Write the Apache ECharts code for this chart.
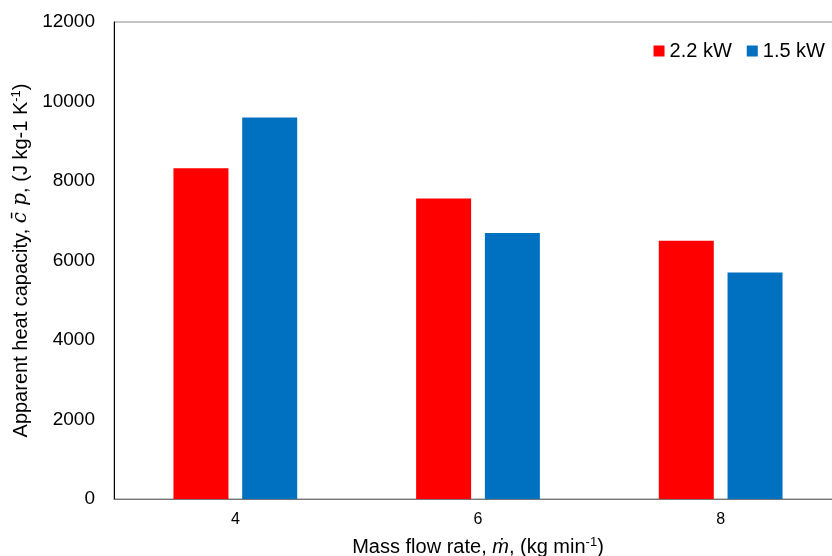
<!doctype html>
<html>
<head>
<meta charset="UTF-8">
<title>Apparent heat capacity</title>
<script src="https://cdn.jsdelivr.net/npm/echarts@6/dist/echarts.min.js"></script>
<style>
  html, body { margin: 0; padding: 0; background: #fff; }
  #main { width: 832px; height: 556px; }
</style>
</head>
<body>
<div id="main"></div>
<script>
// data
var categories = ['4', '6', '8'];
var power22 = [8320, 7560, 6500];
var power15 = [9600, 6690, 5700];
var seriesNames = ['2.2 kW', '1.5 kW'];

var font = 'Liberation Sans, Arial, sans-serif';
var myChart = echarts.init(document.getElementById('main'));

var option = {
    animation: false,
    textStyle: { fontFamily: font },
    legend: {
        data: seriesNames,
        right: 2,
        top: 36,
        itemWidth: 11,
        itemHeight: 11,
        itemGap: 15,
        icon: 'rect',
        textStyle: { fontSize: 20, color: '#000', fontFamily: font }
    },
    grid: {
        left: 114,
        right: -10,
        top: 22,
        bottom: 57,
        outerBoundsMode: 'none',
        containLabel: false,
        show: true,
        borderColor: '#888',
        borderWidth: 1
    },
    xAxis: {
        type: 'category',
        data: categories,
        axisTick: { show: false },
        axisLine: { lineStyle: { color: '#777', width: 1 } },
        axisLabel: { fontSize: 16, color: '#000', margin: 13 },
        name: '{n|Mass flow rate, }{i|ṁ}{n|, (kg min}{s|-1}{n|)}',
        nameLocation: 'middle',
        nameGap: 37,
        nameTextStyle: {
            rich: {
                n: { fontSize: 20, color: '#000', fontFamily: font },
                i: { fontSize: 20, color: '#000', fontFamily: font, fontStyle: 'italic' },
                s: { fontSize: 13, color: '#000', fontFamily: font, padding: [0, 0, 9, 0] }
            }
        }
    },
    yAxis: {
        type: 'value',
        min: 0,
        max: 12000,
        interval: 2000,
        splitLine: { show: false },
        axisTick: { show: false },
        axisLine: { show: true, lineStyle: { color: '#000', width: 1 } },
        axisLabel: {
            fontSize: 19,
            color: '#000',
            margin: 19,
            formatter: function (v) { return String(v); }
        },
        name: '{n|Apparent heat capacity, }{i|c̄ p}{n|, (J kg-1 K}{s|-1}{n|)}',
        nameLocation: 'middle',
        nameGap: 80,
        nameTextStyle: {
            rich: {
                n: { fontSize: 20, color: '#000', fontFamily: font },
                i: { fontSize: 20, color: '#000', fontFamily: 'DejaVu Serif, serif', fontStyle: 'italic' },
                s: { fontSize: 13, color: '#000', fontFamily: font, padding: [0, 0, 9, 0] }
            }
        }
    },
    series: [
        {
            name: seriesNames[0],
            type: 'bar',
            data: power22,
            barWidth: 55,
            barGap: '25%',
            itemStyle: { color: '#ff0000' }
        },
        {
            name: seriesNames[1],
            type: 'bar',
            data: power15,
            barWidth: 55,
            barGap: '25%',
            itemStyle: { color: '#0070c0' }
        }
    ]
};
myChart.setOption(option);
</script>
</body>
</html>
